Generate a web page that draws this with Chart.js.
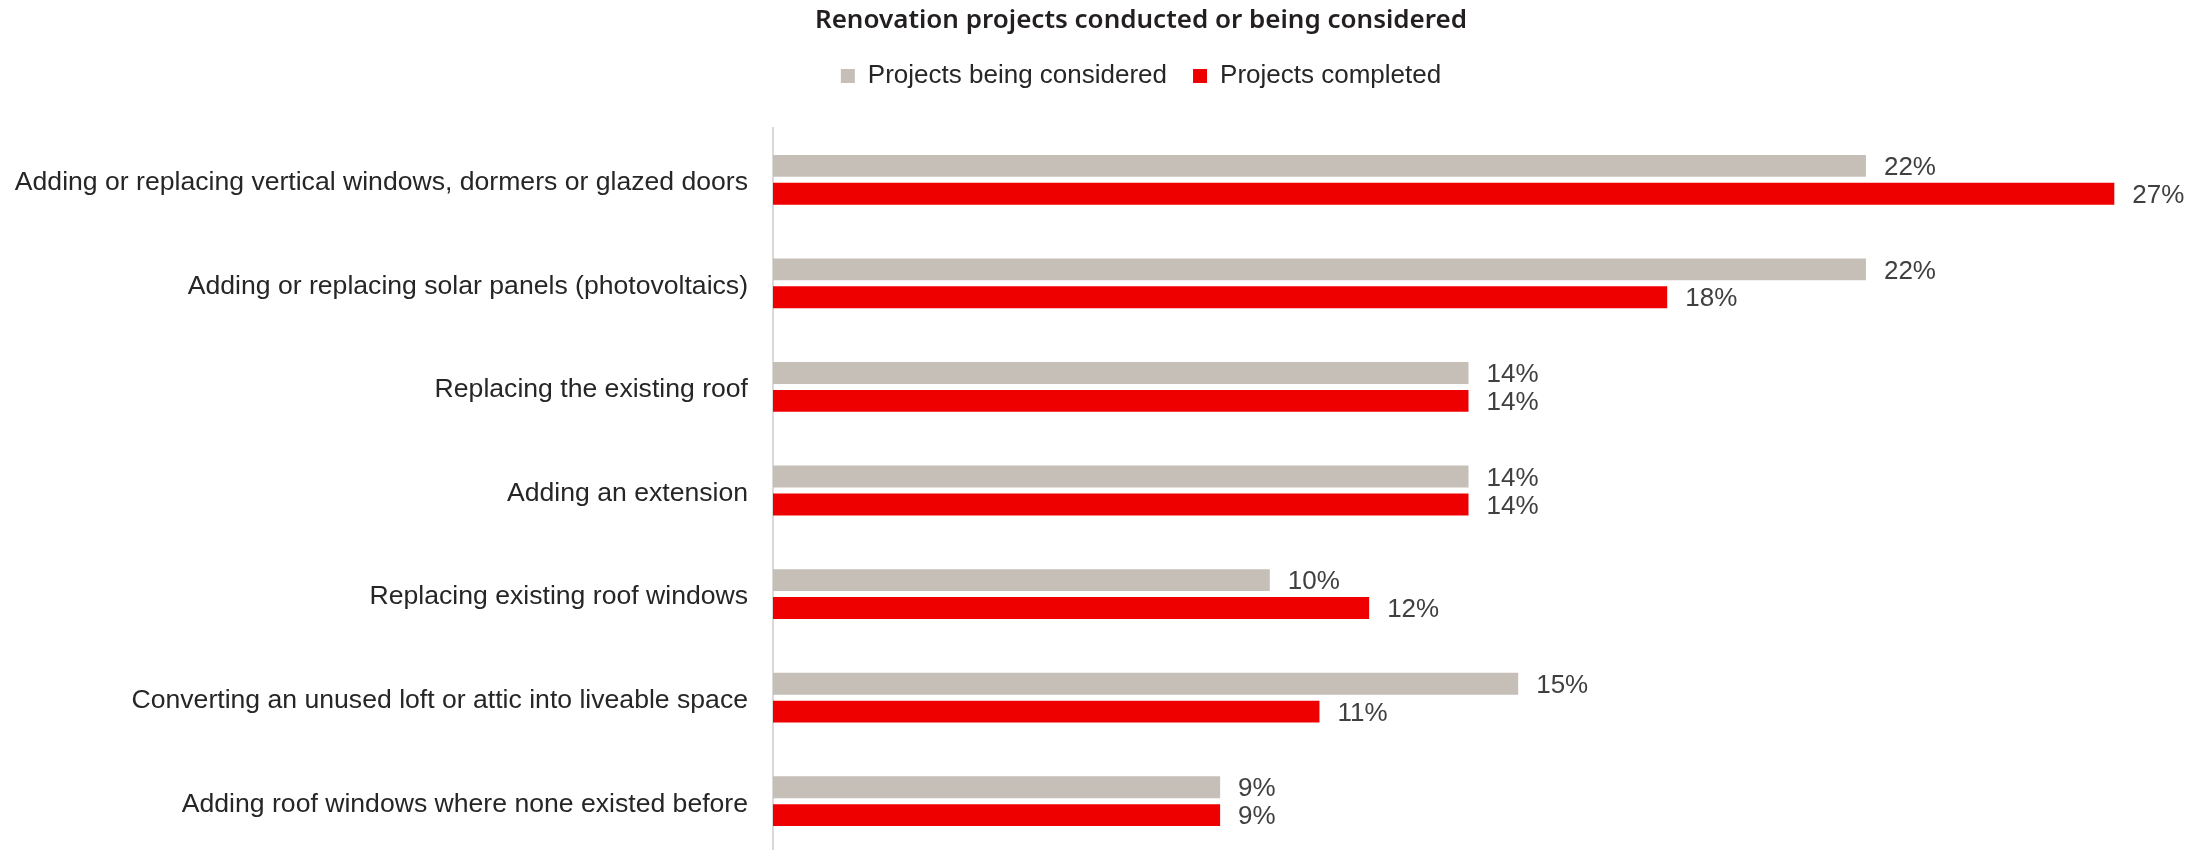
<!DOCTYPE html>
<html><head><meta charset="utf-8">
<script src="https://cdn.jsdelivr.net/npm/chart.js@4/dist/chart.umd.min.js"></script>
<style>html,body{margin:0;padding:0;background:#fff;overflow:hidden}#wrap{width:2210px;height:860px;position:relative}</style>
</head><body><div id="wrap"><canvas id="c"></canvas></div>
<script>
const categories = [
  'Adding or replacing vertical windows, dormers or glazed doors',
  'Adding or replacing solar panels (photovoltaics)',
  'Replacing the existing roof',
  'Adding an extension',
  'Replacing existing roof windows',
  'Converting an unused loft or attic into liveable space',
  'Adding roof windows where none existed before'
];
const considered = [22, 22, 14, 14, 10, 15, 9];
const completed  = [27, 18, 14, 14, 12, 11, 9];
const seriesNames = ['Projects being considered', 'Projects completed'];
const titleText = 'Renovation projects conducted or being considered';
const valueSuffix = '%';
const xMin = 0;
const xMax = 28;

const TEXT_FONT = '"Liberation Sans", Arial, sans-serif';

// Category scale whose tick labels are not clipped to the axis box
class UnclippedCategoryScale extends Chart.CategoryScale {
  _computeLabelArea() { return undefined; }
}
UnclippedCategoryScale.id = 'categoryUnclipped';
UnclippedCategoryScale.defaults = Chart.CategoryScale.defaults;
Chart.register(UnclippedCategoryScale);

const valueLabels = {
  id: 'valueLabels',
  afterDatasetsDraw(chart) {
    const ctx = chart.ctx;
    ctx.save();
    ctx.font = '26px ' + TEXT_FONT;
    ctx.fillStyle = '#404040';
    ctx.textAlign = 'left';
    ctx.textBaseline = 'middle';
    chart.data.datasets.forEach((ds, i) => {
      const meta = chart.getDatasetMeta(i);
      meta.data.forEach((bar, j) => {
        ctx.fillText(ds.data[j] + valueSuffix, bar.x + 18, bar.y + 2);
      });
    });
    ctx.restore();
  }
};

new Chart(document.getElementById('c'), {
  type: 'bar',
  data: {
    labels: categories,
    datasets: [
      { label: seriesNames[0], data: considered, backgroundColor: '#c6bfb8', borderWidth: 0,
        categoryPercentage: 0.5385, barPercentage: 0.786 },
      { label: seriesNames[1], data: completed, backgroundColor: '#ee0000', borderWidth: 0,
        categoryPercentage: 0.5385, barPercentage: 0.786 }
    ]
  },
  options: {
    indexAxis: 'y',
    responsive: true,
    maintainAspectRatio: false,
    animation: false,
    devicePixelRatio: 1,
    layout: { padding: { left: 118, right: 46, top: 0, bottom: 7 } },
    plugins: {
      title: {
        display: true,
        text: titleText,
        color: '#231f20',
        font: { family: '"Noto Sans", Arial, sans-serif', size: 26, weight: '600' },
        padding: { top: 5, bottom: 0.8 }
      },
      legend: {
        display: true,
        position: 'top',
        labels: {
          boxWidth: 14, boxHeight: 14, padding: 26,
          color: '#262626',
          font: { family: TEXT_FONT, size: 26 }
        }
      },
      tooltip: { enabled: false }
    },
    scales: {
      x: {
        position: 'top',
        min: xMin, max: xMax,
        grid: { display: false },
        border: { display: false },
        ticks: { display: false },
        afterFit(s) { s.height = 29; }
      },
      y: {
        type: 'categoryUnclipped',
        grid: { display: false },
        border: { display: true, color: '#d9d9d9', width: 2 },
        ticks: { padding: 17, labelOffset: 3, color: '#262626', autoSkip: false, font: { family: TEXT_FONT, size: 26.6 } },
        afterFit(s) { s.width = 655; s.paddingTop = 0; s.paddingBottom = 0; }
      }
    }
  },
  plugins: [valueLabels]
});
</script>
</body></html>
